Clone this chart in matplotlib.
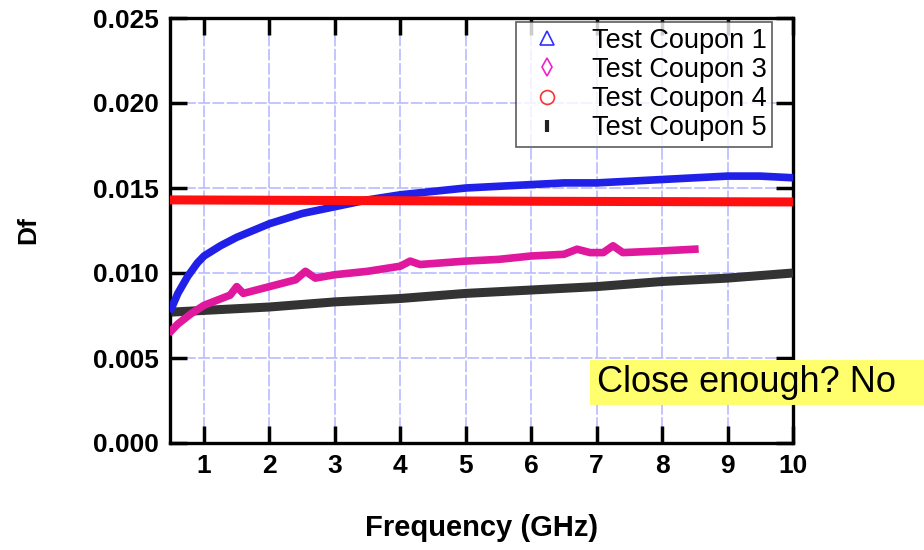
import matplotlib
matplotlib.use("Agg")
import matplotlib.pyplot as plt
from matplotlib.lines import Line2D
from matplotlib.patches import Rectangle

plt.rcParams["font.family"] = ["Liberation Sans", "DejaVu Sans"]

# values
freq_c1 = [0.5, 0.6, 0.75, 0.9, 1.0, 1.25, 1.5, 1.75, 2.0, 2.5, 3.0, 3.5, 4.0, 4.5, 5.0, 5.5, 6.0, 6.5, 7.0, 7.5, 8.0, 8.5, 9.0, 9.5, 10.0]
df_c1 = [0.0079, 0.0088, 0.0098, 0.0106, 0.0110, 0.0116, 0.0121, 0.0125, 0.0129, 0.0135, 0.0139, 0.0143, 0.0146, 0.0148, 0.0150, 0.0151, 0.0152, 0.0153, 0.0153, 0.0154, 0.0155, 0.0156, 0.0157, 0.0157, 0.0156]

freq_c3 = [0.5, 0.6, 0.8, 1.0, 1.2, 1.4, 1.5, 1.6, 2.0, 2.4, 2.55, 2.7, 3.0, 3.5, 4.0, 4.15, 4.3, 5.0, 5.5, 6.0, 6.5, 6.7, 6.9, 7.1, 7.25, 7.4, 8.0, 8.5]
df_c3 = [0.0066, 0.0070, 0.0076, 0.0081, 0.0084, 0.0087, 0.0092, 0.0088, 0.0092, 0.0096, 0.0101, 0.0097, 0.0099, 0.0101, 0.0104, 0.0107, 0.0105, 0.0107, 0.0108, 0.0110, 0.0111, 0.0114, 0.0112, 0.0112, 0.0116, 0.0112, 0.0113, 0.0114]

freq_c4 = [0.5, 2.0, 4.0, 6.0, 8.0, 10.0]
df_c4 = [0.01430, 0.01428, 0.01425, 0.01422, 0.01420, 0.01418]

freq_c5 = [0.5, 1.0, 2.0, 3.0, 4.0, 5.0, 6.0, 7.0, 8.0, 9.0, 10.0]
df_c5 = [0.0077, 0.0078, 0.0080, 0.0083, 0.0085, 0.0088, 0.0090, 0.0092, 0.0095, 0.0097, 0.0100]

x_ticks = [1, 2, 3, 4, 5, 6, 7, 8, 9, 10]
y_ticks = [0.000, 0.005, 0.010, 0.015, 0.020, 0.025]

fig = plt.figure(figsize=(9.24, 5.5), dpi=100)
ax = fig.add_axes([170 / 924, 1 - 443 / 550, 623 / 924, 425 / 550])

ax.plot(freq_c5, df_c5, color="#333333", lw=6.5, solid_capstyle="butt", zorder=3)
ax.plot(freq_c3, df_c3, color="#e0189e", lw=5.5, zorder=4)
ax.plot(freq_c1, df_c1, color="#2020e8", lw=5.5, zorder=5)
ax.plot(freq_c4, df_c4, color="#ff1010", lw=6.5, zorder=6)

ax.set_xlim(0.48, 10)
ax.set_ylim(0, 0.025)
ax.set_xticks(x_ticks)
ax.set_yticks(y_ticks)
ax.set_yticklabels([f"{v:.3f}" for v in y_ticks])
ax.grid(True, color="#babaff", lw=1.2, ls=(0, (7, 1.5)))
ax.set_axisbelow(True)
ax.tick_params(direction="in", length=12, width=2.5, top=True, right=True,
               labelsize=19, pad=8)
for lab in ax.get_xticklabels() + ax.get_yticklabels():
    lab.set_fontweight("bold")
for sp in ax.spines.values():
    sp.set_linewidth(2.4)

ax.set_xlabel("Frequency (GHz)", fontsize=21, fontweight="bold", labelpad=26)
ax.set_ylabel("Df", fontsize=19, fontweight="bold", labelpad=38)

handles = [
    Line2D([], [], ls="none", marker="^", mfc="none", mec="#3030ff", ms=10, mew=1.2),
    Line2D([], [], ls="none", marker="d", mfc="none", mec="#ee22cc", ms=9, mew=1.2),
    Line2D([], [], ls="none", marker="o", mfc="none", mec="#ff3030", ms=10, mew=1.2),
    Line2D([], [], ls="none", marker="|", mec="#222222", ms=9, mew=3),
]
labels = ["Test Coupon 1", "Test Coupon 3", "Test Coupon 4", "Test Coupon 5"]
leg = ax.legend(handles, labels, loc="upper right", bbox_to_anchor=(0.9665, 0.99),
                fontsize=19.5, frameon=True, fancybox=False, edgecolor="#333333",
                handletextpad=0.7, borderpad=0.2, labelspacing=0.12,
                handlelength=1.9, borderaxespad=0)
leg.get_frame().set_linewidth(1.2)
leg.set_zorder(10)

fig.patches.append(Rectangle((590 / 924, 1 - 405 / 550), 340 / 924, 45 / 550,
                             transform=fig.transFigure, fc="#ffff6e", ec="none",
                             zorder=19))
fig.text(597 / 924, 1 - 383 / 550, "Close enough? No", fontsize=26, va="center",
         ha="left", zorder=20)

fig.savefig("out.png", dpi=100)
